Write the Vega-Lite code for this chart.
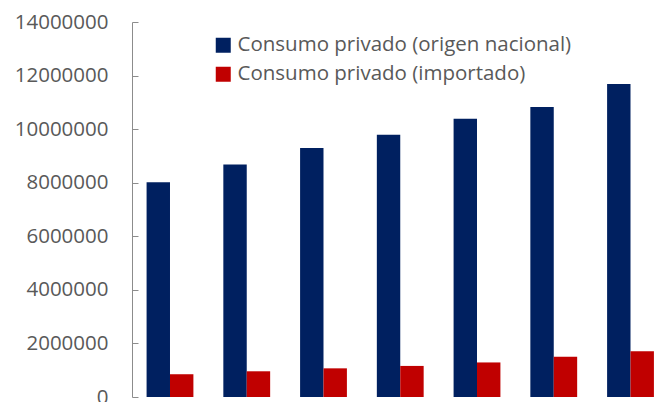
{
  "$schema": "https://vega.github.io/schema/vega-lite/v6.json",
  "width": 527,
  "height": 375,
  "autosize": {"type": "none"},
  "padding": {"left": 132, "top": 22, "right": 0, "bottom": 5},
  "background": "white",
  "config": {
    "view": {"stroke": null},
    "font": "Open Sans"
  },
  "data": {
    "values": [
      {"periodo": "2010", "serie": "Consumo privado (origen nacional)", "valor": 8020000},
      {"periodo": "2010", "serie": "Consumo privado (importado)", "valor": 850000},
      {"periodo": "2011", "serie": "Consumo privado (origen nacional)", "valor": 8680000},
      {"periodo": "2011", "serie": "Consumo privado (importado)", "valor": 960000},
      {"periodo": "2012", "serie": "Consumo privado (origen nacional)", "valor": 9300000},
      {"periodo": "2012", "serie": "Consumo privado (importado)", "valor": 1070000},
      {"periodo": "2013", "serie": "Consumo privado (origen nacional)", "valor": 9790000},
      {"periodo": "2013", "serie": "Consumo privado (importado)", "valor": 1160000},
      {"periodo": "2014", "serie": "Consumo privado (origen nacional)", "valor": 10390000},
      {"periodo": "2014", "serie": "Consumo privado (importado)", "valor": 1290000},
      {"periodo": "2015", "serie": "Consumo privado (origen nacional)", "valor": 10830000},
      {"periodo": "2015", "serie": "Consumo privado (importado)", "valor": 1500000},
      {"periodo": "2016", "serie": "Consumo privado (origen nacional)", "valor": 11690000},
      {"periodo": "2016", "serie": "Consumo privado (importado)", "valor": 1710000}
    ]
  },
  "mark": {"type": "bar"},
  "encoding": {
    "x": {
      "field": "periodo",
      "type": "nominal",
      "axis": null,
      "scale": {"range": [0, 536.5], "paddingInner": 0.39, "paddingOuter": 0.19}
    },
    "xOffset": {
      "field": "serie",
      "type": "nominal",
      "sort": ["Consumo privado (origen nacional)", "Consumo privado (importado)"]
    },
    "y": {
      "field": "valor",
      "type": "quantitative",
      "scale": {"domain": [0, 14000000], "nice": false},
      "axis": {
        "title": null,
        "values": [0, 2000000, 4000000, 6000000, 8000000, 10000000, 12000000, 14000000],
        "format": "d",
        "grid": false,
        "domainColor": "#8c8c8c",
        "domainWidth": 1,
        "tickColor": "#8c8c8c",
        "tickSize": -6,
        "labelPadding": 30,
        "labelFontSize": 20.5,
        "labelColor": "#595959",
        "labelFont": "Open Sans"
      }
    },
    "color": {
      "field": "serie",
      "type": "nominal",
      "scale": {
        "domain": ["Consumo privado (origen nacional)", "Consumo privado (importado)"],
        "range": ["#002060", "#C00000"]
      },
      "legend": {
        "title": null,
        "orient": "none",
        "legendX": 81,
        "legendY": 13,
        "padding": 0,
        "symbolType": "square",
        "symbolSize": 225,
        "symbolStrokeWidth": 0,
        "labelFontSize": 20.5,
        "labelFont": "Open Sans",
        "labelColor": "#595959",
        "labelOffset": 4,
        "rowPadding": 8,
        "labelLimit": 500
      }
    }
  }
}
